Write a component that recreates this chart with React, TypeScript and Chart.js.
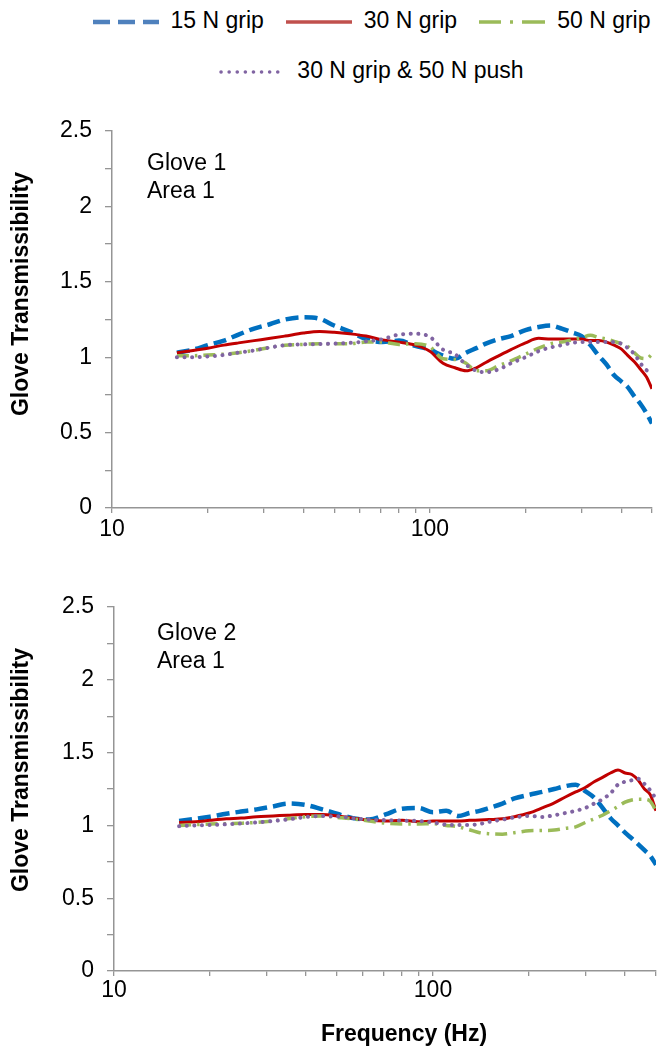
import React, { useEffect, useRef } from 'react';
import Chart from 'chart.js/auto';

const FONT = "'Liberation Sans', Arial, sans-serif";

// Frequency grid (Hz) at which the curves were read
const frequencies = [16, 18, 20, 22.5, 25, 28, 31.5, 35, 40, 45, 50, 56, 63, 71, 80, 90, 100, 110, 120, 130, 140, 150, 165, 180, 200, 220, 240, 260, 280, 300, 320, 340, 360, 380, 400, 420, 440, 460, 480, 500];

// Glove 1, Area 1
const glove1Grip15 = [1.03, 1.05, 1.08, 1.11, 1.15, 1.19, 1.22, 1.25, 1.265, 1.255, 1.21, 1.17, 1.12, 1.10, 1.11, 1.075, 1.05, 1.01, 0.99, 1.03, 1.06, 1.09, 1.12, 1.14, 1.18, 1.20, 1.21, 1.19, 1.165, 1.14, 1.08, 1.01, 0.95, 0.88, 0.84, 0.80, 0.74, 0.69, 0.63, 0.56];
const glove1Grip30 = [1.03, 1.045, 1.06, 1.08, 1.095, 1.11, 1.125, 1.14, 1.16, 1.17, 1.165, 1.155, 1.14, 1.115, 1.10, 1.08, 1.04, 0.96, 0.93, 0.91, 0.93, 0.965, 1.01, 1.05, 1.095, 1.125, 1.12, 1.12, 1.12, 1.12, 1.11, 1.11, 1.10, 1.08, 1.055, 1.01, 0.97, 0.92, 0.87, 0.79];
const glove1Grip50 = [1.01, 1.01, 1.015, 1.02, 1.03, 1.045, 1.065, 1.08, 1.085, 1.09, 1.09, 1.09, 1.10, 1.10, 1.085, 1.09, 1.07, 0.99, 0.985, 0.96, 0.91, 0.91, 0.945, 0.975, 1.02, 1.06, 1.09, 1.10, 1.115, 1.13, 1.145, 1.13, 1.12, 1.105, 1.09, 1.07, 1.03, 0.995, 0.99, 1.02];
const glove1GripPush = [1.00, 1.00, 1.005, 1.015, 1.03, 1.045, 1.065, 1.08, 1.085, 1.087, 1.09, 1.095, 1.105, 1.12, 1.15, 1.155, 1.135, 1.05, 1.02, 0.95, 0.91, 0.90, 0.92, 0.96, 1.00, 1.04, 1.065, 1.08, 1.095, 1.10, 1.10, 1.10, 1.10, 1.10, 1.09, 1.06, 1.02, 0.96, 0.915, 0.90];

// Glove 2, Area 1
const glove2Grip15 = [1.03, 1.045, 1.06, 1.08, 1.095, 1.11, 1.13, 1.15, 1.14, 1.11, 1.08, 1.05, 1.04, 1.075, 1.115, 1.12, 1.09, 1.10, 1.065, 1.085, 1.10, 1.12, 1.15, 1.185, 1.21, 1.23, 1.25, 1.27, 1.28, 1.235, 1.19, 1.12, 1.05, 1.00, 0.95, 0.91, 0.87, 0.83, 0.79, 0.73];
const glove2Grip30 = [1.02, 1.025, 1.035, 1.045, 1.05, 1.06, 1.065, 1.07, 1.075, 1.075, 1.065, 1.05, 1.035, 1.03, 1.035, 1.025, 1.03, 1.03, 1.03, 1.035, 1.037, 1.04, 1.045, 1.06, 1.085, 1.12, 1.155, 1.195, 1.23, 1.26, 1.30, 1.33, 1.36, 1.38, 1.36, 1.35, 1.31, 1.25, 1.21, 1.10];
const glove2Grip50 = [1.00, 1.005, 1.01, 1.012, 1.015, 1.02, 1.03, 1.045, 1.06, 1.064, 1.055, 1.045, 1.03, 1.015, 1.01, 1.01, 1.012, 1.00, 0.99, 0.97, 0.95, 0.943, 0.94, 0.95, 0.963, 0.965, 0.968, 0.98, 0.99, 1.02, 1.045, 1.07, 1.10, 1.13, 1.16, 1.175, 1.18, 1.18, 1.165, 1.10];
const glove2GripPush = [0.995, 1.00, 1.003, 1.008, 1.013, 1.02, 1.03, 1.04, 1.058, 1.064, 1.062, 1.05, 1.04, 1.036, 1.033, 1.03, 1.02, 1.005, 1.003, 1.003, 1.01, 1.025, 1.04, 1.055, 1.065, 1.058, 1.07, 1.085, 1.10, 1.12, 1.15, 1.18, 1.22, 1.28, 1.30, 1.31, 1.32, 1.285, 1.24, 1.18];

const seriesNames = ['15 N grip', '30 N grip', '50 N grip', '30 N grip & 50 N push'];
const xTickValues = [10, 20, 30, 40, 50, 60, 70, 80, 90, 100, 200, 300, 400, 500];
const xTickLabels = [10, 100];
const yMin = 0;
const yMax = 2.5;
const yMinorStep = 0.25;
const yLabelStep = 0.5;
const yTitle = 'Glove Transmissibility';
const xTitle = 'Frequency (Hz)';

const lineStyles = [
  { color: '#0070C0', width: 4.5, dash: [13, 6], cap: 'butt', order: 3, legend: '#4F81BD', legendDash: '17 8', legendWidth: 4.5, legendCap: 'butt' },
  { color: '#C00000', width: 3, dash: [], cap: 'butt', order: 2, legend: '#C0504D', legendDash: '', legendWidth: 3.5, legendCap: 'butt' },
  { color: '#9BBB59', width: 3.5, dash: [12, 6, 2.5, 6], cap: 'butt', order: 1, legend: '#9BBB59', legendDash: '22 9 3 9 40', legendWidth: 3.5, legendCap: 'butt' },
  { color: '#8064A2', width: 4, dash: [0.1, 7.5], cap: 'round', order: 0, legend: '#8064A2', legendDash: '0.1 8', legendWidth: 3.5, legendCap: 'round' },
];

type Panel = {
  series: number[][];
  lines: string[];
  padTop: number;
  padRight: number;
  yAxisWidth: number;
  xAxisHeight: number;
  xTickPad: number;
  textDx: number;
  textDy: number;
  showXTitle: boolean;
};

const panels: Panel[] = [
  {
    series: [glove1Grip15, glove1Grip30, glove1Grip50, glove1GripPush],
    lines: ['Glove 1', 'Area 1'],
    padTop: 31, padRight: 7, yAxisWidth: 112, xAxisHeight: 52, xTickPad: 3,
    textDx: 35, textDy: 39, showXTitle: false,
  },
  {
    series: [glove2Grip15, glove2Grip30, glove2Grip50, glove2GripPush],
    lines: ['Glove 2', 'Area 1'],
    padTop: 27, padRight: 3, yAxisWidth: 114, xAxisHeight: 79, xTickPad: 1,
    textDx: 43, textDy: 33, showXTitle: true,
  },
];

const AXIS_GRAY = '#959595';

function isMajor(v: number) {
  const r = v / yLabelStep;
  return Math.abs(r - Math.round(r)) < 1e-6;
}

function buildChart(canvas: HTMLCanvasElement, panel: Panel) {
  const textPlugin = {
    id: 'panelText',
    afterDraw(chart: any) {
      const { ctx, chartArea } = chart;
      ctx.save();
      ctx.fillStyle = '#000';
      ctx.font = `23px ${FONT}`;
      ctx.textAlign = 'left';
      ctx.textBaseline = 'alphabetic';
      panel.lines.forEach((l, i) => {
        ctx.fillText(l, chartArea.left + panel.textDx, chartArea.top + panel.textDy + i * 28);
      });
      ctx.font = `bold 23px ${FONT}`;
      if (panel.showXTitle) {
        ctx.textAlign = 'center';
        ctx.textBaseline = 'middle';
        ctx.fillText(xTitle, chartArea.left + 290, chartArea.bottom + 64);
      }
      ctx.translate(22, chartArea.top + 163);
      ctx.rotate(-Math.PI / 2);
      ctx.textAlign = 'center';
      ctx.textBaseline = 'middle';
      ctx.fillText(yTitle, 0, 0);
      ctx.restore();
    },
  };

  return new Chart(canvas, {
    type: 'line',
    data: {
      datasets: panel.series.map((vals, i) => ({
        label: seriesNames[i],
        data: frequencies.map((f, k) => ({ x: f, y: vals[k] })),
        borderColor: lineStyles[i].color,
        backgroundColor: lineStyles[i].color,
        borderWidth: lineStyles[i].width,
        borderDash: lineStyles[i].dash,
        borderCapStyle: lineStyles[i].cap as CanvasLineCap,
        pointRadius: 0,
        cubicInterpolationMode: 'monotone' as const,
        fill: false,
        order: lineStyles[i].order,
      })),
    },
    options: {
      animation: false,
      responsive: false,
      layout: { padding: { top: panel.padTop, right: panel.padRight, left: 0, bottom: 0 } },
      plugins: { legend: { display: false }, tooltip: { enabled: false } },
      scales: {
        x: {
          type: 'logarithmic',
          min: 10,
          max: 500,
          afterBuildTicks: (s: any) => {
            s.ticks = xTickValues.map((v) => ({ value: v }));
          },
          afterFit: (s: any) => {
            s.height = panel.xAxisHeight;
          },
          ticks: {
            autoSkip: false,
            maxRotation: 0,
            minRotation: 0,
            padding: panel.xTickPad,
            color: '#000',
            font: { family: FONT, size: 23 },
            callback: (v: any) => (xTickLabels.includes(Number(v)) ? String(v) : ''),
          },
          grid: { drawOnChartArea: false, drawTicks: true, tickLength: 5, color: AXIS_GRAY, lineWidth: 1.3 },
          border: { color: AXIS_GRAY, width: 1.5 },
        },
        y: {
          min: yMin,
          max: yMax,
          afterFit: (s: any) => {
            s.width = panel.yAxisWidth;
          },
          ticks: {
            stepSize: yMinorStep,
            padding: 13,
            color: '#000',
            font: { family: FONT, size: 23 },
            callback: (v: any) => (isMajor(Number(v)) ? String(Number(v)) : ''),
          },
          grid: { drawOnChartArea: false, drawTicks: true, tickLength: 7, color: AXIS_GRAY, lineWidth: 1.3 },
          border: { color: AXIS_GRAY, width: 1.5 },
        },
      },
    },
    plugins: [textPlugin],
  } as any);
}

function ChartPanel({ panel, top, height }: { panel: Panel; top: number; height: number }) {
  const ref = useRef<HTMLCanvasElement | null>(null);
  useEffect(() => {
    if (!ref.current) return;
    const c = buildChart(ref.current, panel);
    return () => c.destroy();
  }, [panel]);
  return (
    <canvas
      ref={ref}
      width={659}
      height={height}
      style={{ position: 'absolute', left: 0, top, width: 659, height, display: 'block' }}
    />
  );
}

function LegendItem({ idx, last }: { idx: number; last: boolean }) {
  const s = lineStyles[idx];
  return (
    <div style={{ display: 'flex', alignItems: 'center', marginRight: last ? 0 : 22 }}>
      <svg width={66} height={12} style={{ marginRight: 12, marginTop: 4 }}>
        <line
          x1={s.legendCap === 'round' ? 2 : 0}
          y1={6}
          x2={s.legendCap === 'round' ? 62 : 66}
          y2={6}
          stroke={s.legend}
          strokeWidth={s.legendWidth}
          strokeDasharray={s.legendDash || undefined}
          strokeLinecap={s.legendCap as any}
        />
      </svg>
      <span>{seriesNames[idx]}</span>
    </div>
  );
}

export default function App() {
  const rowStyle: React.CSSProperties = {
    position: 'absolute',
    left: 84,
    width: 575,
    display: 'flex',
    justifyContent: 'center',
    alignItems: 'center',
    fontSize: 23,
    lineHeight: '28px',
    whiteSpace: 'nowrap',
  };
  return (
    <div
      style={{
        position: 'absolute',
        left: 0,
        top: 0,
        width: 659,
        height: 1050,
        background: '#fff',
        fontFamily: FONT,
        color: '#000',
        overflow: 'hidden',
      }}
    >
      <div style={{ ...rowStyle, top: 6 }}>
        <LegendItem idx={0} last={false} />
        <LegendItem idx={1} last={false} />
        <LegendItem idx={2} last={true} />
      </div>
      <div style={{ ...rowStyle, top: 56 }}>
        <LegendItem idx={3} last={true} />
      </div>
      <ChartPanel panel={panels[0]} top={100} height={460} />
      <ChartPanel panel={panels[1]} top={580} height={470} />
    </div>
  );
}
